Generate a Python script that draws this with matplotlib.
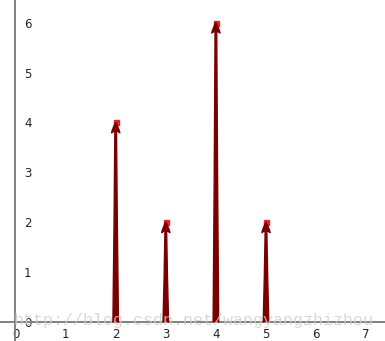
import matplotlib.pyplot as plt

xs = [2, 3, 4, 5]
ys = [4, 2, 6, 2]
xticks = [0, 1, 2, 3, 4, 5, 6, 7]
yticks = [0, 1, 2, 3, 4, 5, 6]
watermark = 'http://blog.csdn.net/wangyangzhizhou'

fig = plt.figure(figsize=(3.85, 3.41), dpi=100)
ax = fig.add_axes([0, 0, 1, 1])
ax.set_xlim(-0.309, 7.375)
ax.set_ylim(-0.381, 6.453)

# axes crossing at the origin
for side in ['top', 'right']:
    ax.spines[side].set_visible(False)
for side in ['left', 'bottom']:
    ax.spines[side].set_position(('data', 0))
    ax.spines[side].set_color('#808080')
    ax.spines[side].set_linewidth(1.4)

ax.set_xticks(xticks)
ax.set_yticks(yticks)
ax.tick_params(axis='x', length=0, pad=4, labelsize=8.5, colors='#222222')
ax.tick_params(axis='y', length=0, pad=-11.5, labelsize=8.5, colors='#222222')

ax.plot(xs, ys, 's', color='#ee2020', markersize=3.6, zorder=2)
for x, y in zip(xs, ys):
    ax.annotate('', xy=(x, y), xytext=(x, 0),
                arrowprops=dict(arrowstyle='fancy,head_length=0.75,head_width=0.6,tail_width=0.4',
                                color='#7a0000', shrinkA=0, shrinkB=0, mutation_scale=10),
                zorder=3)

ax.text(0.034, 0.059, watermark, transform=ax.transAxes, va='center', ha='left',
        family='Liberation Mono', fontsize=12, color='#cfcfcf', alpha=0.8, zorder=4)

fig.savefig('out.png', dpi=100)
